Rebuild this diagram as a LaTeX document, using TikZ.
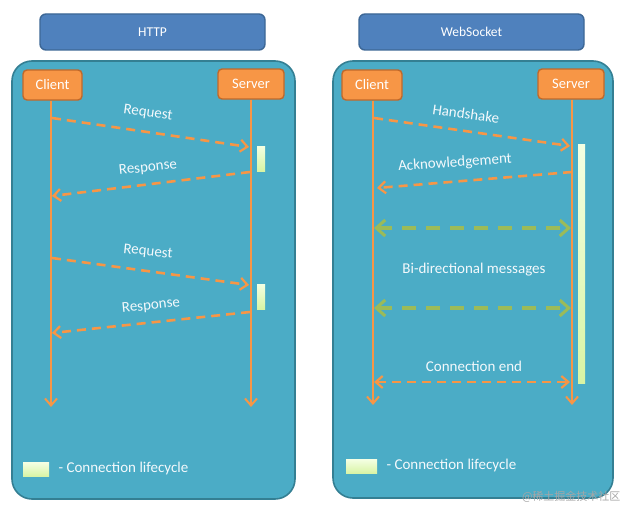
\documentclass[tikz,border=0pt]{standalone}
\usepackage{fontspec}
\setmainfont{Carlito}
\newfontfamily\cjk{Noto Sans CJK SC}
\usetikzlibrary{arrows.meta}
\definecolor{hdr}{HTML}{4F81BD}
\definecolor{hdrb}{HTML}{3D6796}
\definecolor{panel}{HTML}{4BACC6}
\definecolor{panelb}{HTML}{347F93}
\definecolor{org}{HTML}{F79646}
\definecolor{orgb}{HTML}{C0682A}
\definecolor{grn}{HTML}{9BBB59}
\definecolor{lifetop}{HTML}{F4FFE2}
\definecolor{lifebot}{HTML}{D8F4A4}
\definecolor{lbl}{HTML}{F4F9FC}
\tikzset{
  header/.style={draw=hdrb, fill=hdr, line width=1.4pt, rounded corners=6pt,
    minimum width=225pt, minimum height=36pt, text=white, font=\fontsize{13.5}{15}\selectfont},
  panelbox/.style={draw=panelb, fill=panel, line width=1.6pt, rounded corners=20pt},
  actor/.style={draw=orgb, fill=org, line width=1.4pt, rounded corners=4pt,
    minimum height=30pt, text=white, font=\fontsize{14.5}{16}\selectfont},
  lifeline/.style={draw=org, line width=2pt, -{Straight Barb[length=7pt,width=12pt,line width=2pt]}},
  msg/.style={draw=org, line width=2.6pt, dash pattern=on 9pt off 6pt,
    -{Straight Barb[length=7pt,width=12pt,line width=2.2pt]}},
  bimsg/.style={draw=org, line width=2.6pt, dash pattern=on 9pt off 6pt,
    {Straight Barb[length=7pt,width=12pt,line width=2.2pt]}-{Straight Barb[length=7pt,width=12pt,line width=2.2pt]}},
  grnmsg/.style={draw=grn, line width=3.4pt, dash pattern=on 14pt off 10pt,
    {Straight Barb[length=9pt,width=16pt,line width=3pt]}-{Straight Barb[length=9pt,width=16pt,line width=3pt]}},
  lbl/.style={text=lbl, font=\fontsize{15}{17}\selectfont},
  lifebar/.style={top color=lifetop, bottom color=lifebot, draw=none, inner sep=0pt},
}
\begin{document}
\begin{tikzpicture}[x=1pt,y=-1pt]
\useasboundingbox (0,0) rectangle (628,511);
\fill[white] (0,0) rectangle (628,511);

% headers
\node[header] (hhttp) at (152.5,32) {HTTP};
\node[header] (hws) at (471.5,32) {WebSocket};

% panels
\draw[panelbox] (12,61) rectangle (295,499);
\draw[panelbox] (333,61) rectangle (613,498);

% ---------- HTTP ----------
\node[actor, minimum width=59pt] (lcli) at (52.5,85) {Client};
\node[actor, minimum width=66pt] (lsrv) at (251,84) {Server};
\coordinate (lcend) at (51,407);
\coordinate (lsend) at (251,407);
\draw[lifeline] (lcli.south -| lcend) -- (lcend);
\draw[lifeline] (lsrv.south -| lsend) -- (lsend);

\node[lifebar, minimum width=8pt, minimum height=25pt] (lb1) at (261,158.5) {};
\node[lifebar, minimum width=8pt, minimum height=25pt] (lb2) at (261,296.5) {};

\coordinate (rq1s) at (52,118);
\coordinate (rq1e) at (249,147);
\coordinate (rp1s) at (250,172);
\coordinate (rp1e) at (52,196);
\coordinate (rq2s) at (52,258);
\coordinate (rq2e) at (249,285);
\coordinate (rp2s) at (250,312);
\coordinate (rp2e) at (52,333);
\draw[msg] (rq1s) -- (rq1e);
\draw[msg] (rp1s) -- (rp1e);
\draw[msg] (rq2s) -- (rq2e);
\draw[msg] (rp2s) -- (rp2e);
\node[lbl, rotate=-8] (lrq1) at (148,113) {Request};
\node[lbl, rotate=6] (lrp1) at (148,168) {Response};
\node[lbl, rotate=-6] (lrq2) at (148,252) {Request};
\node[lbl, rotate=6] (lrp2) at (151,306) {Response};

\node[lifebar, minimum width=26pt, minimum height=14pt] (lleg) at (36,469.5) {};
\node[lbl, anchor=west] (llegt) at (55,468) {- Connection lifecycle};

% ---------- WebSocket ----------
\node[actor, minimum width=60pt] (rcli) at (372,85) {Client};
\node[actor, minimum width=66pt] (rsrv) at (571,84) {Server};
\coordinate (rcend) at (373,405);
\coordinate (rsend) at (572,405);
\draw[lifeline] (rcli.south -| rcend) -- (rcend);
\draw[lifeline] (rsrv.south -| rsend) -- (rsend);

\node[lifebar, minimum width=7pt, minimum height=239pt] (rb) at (581.5,263.5) {};

\coordinate (hss) at (374,118);
\coordinate (hse) at (570,146);
\coordinate (acs) at (572,172);
\coordinate (ace) at (377,188);
\coordinate (b1s) at (374,228);
\coordinate (b1e) at (571,228);
\coordinate (b2s) at (374,308);
\coordinate (b2e) at (571,308);
\coordinate (ces) at (374,382);
\coordinate (cee) at (570,382);
\draw[msg] (hss) -- (hse);
\draw[msg] (acs) -- (ace);
\draw[grnmsg] (b1s) -- (b1e);
\draw[grnmsg] (b2s) -- (b2e);
\draw[bimsg] (ces) -- (cee);
\node[lbl, rotate=-8] (lhs) at (466,114) {Handshake};
\node[lbl, rotate=4] (lac) at (455,163) {Acknowledgement};
\node[lbl] (lbi) at (474,270) {Bi-directional messages};
\node[lbl] (lce) at (474,366) {Connection end};

\node[lifebar, minimum width=31pt, minimum height=14pt] (rleg) at (361.5,466.5) {};
\node[lbl, anchor=west] (rlegt) at (383,465) {- Connection lifecycle};

% watermark
\node[text=black!35, font=\cjk\fontsize{11}{13}\selectfont, anchor=east] (wm) at (624,497) {@稀土掘金技术社区};
\end{tikzpicture}
\end{document}
